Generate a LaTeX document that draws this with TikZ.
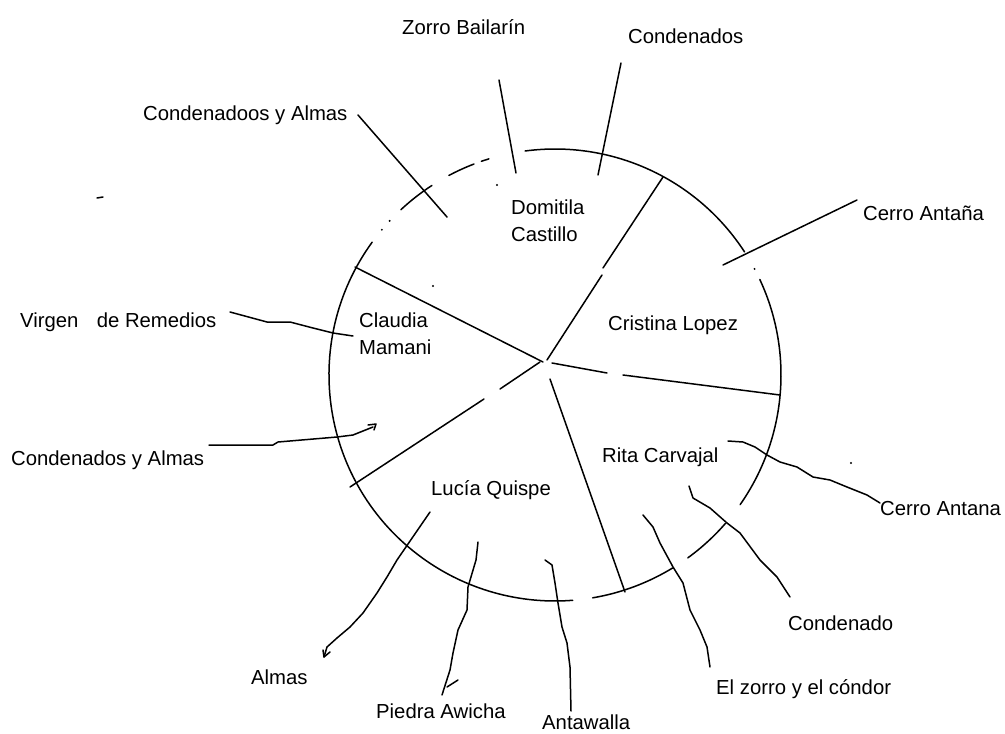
\documentclass[tikz,border=0pt]{standalone}
\usepackage{fontspec}
\setmainfont{Liberation Sans}
\begin{document}
\begin{tikzpicture}[x=1pt,y=-1pt,
  lbl/.style={anchor=base west,inner sep=0pt,font=\fontsize{20.3}{23}\selectfont},
  ln/.style={line width=1.5pt,line join=round,line cap=round},
  dotm/.style={fill=black,draw=none}]
\useasboundingbox[fill=white] (0,0) rectangle (1005,734);
\begin{scope}
\clip (0,0) rectangle (1005,734);
% ---------- circle pieces (centre 555,375 ; r 226) ----------
\coordinate (O) at (555,375);
\draw[ln] (O) ++(25:226pt) arc[start angle=25,end angle=-35,radius=226pt];
\draw[ln] (O) ++(33:226pt) arc[start angle=33,end angle=97.6,radius=226pt];
\draw[ln] (O) ++(107:226pt) arc[start angle=107,end angle=109,radius=226pt];
\draw[ln] (O) ++(111:226pt) arc[start angle=111,end angle=118,radius=226pt];
\draw[ln] (O) ++(123:226pt) arc[start angle=123,end angle=133,radius=226pt];
\draw[ln] (O) ++(144:226pt) arc[start angle=144,end angle=274.5,radius=226pt];
\draw[ln] (O) ++(279.6:226pt) arc[start angle=279.6,end angle=301.4,radius=226pt];
\draw[ln] (O) ++(306:226pt) arc[start angle=306,end angle=319,radius=226pt];
\fill[dotm] (O) ++(28:226pt) circle[radius=1.1pt];
\fill[dotm] (O) ++(137:226pt) circle[radius=1.1pt];
\fill[dotm] (O) ++(140:226pt) circle[radius=1.1pt];
% ---------- spokes ----------
\coordinate (c1) at (543,362);
\draw[ln] (c1) -- (355,267);
\draw[ln] (547,360) -- (602,275);
\draw[ln] (603,268) -- (663,177);
\draw[ln] (552,363) -- (607,373);
\draw[ln] (623,375) -- (780,395);
\draw[ln] (540,362) -- (500,389);
\draw[ln] (484,399) -- (350,487);
\draw[ln] (550,379) -- (625,592);
% ---------- labels ----------
\node[lbl] (zorro) at (402,34) {Zorro Bailarín};
\node[lbl] (cond1) at (628,43) {Condenados};
\node[lbl] (conda) at (143,120) {Condenadoos y Almas};
\node[lbl] (cerro1) at (863,220) {Cerro Antaña};
\node[lbl] (virgen) at (20,327) {Virgen\hspace{18.3pt}de Remedios};
\node[lbl] (condb) at (11,465) {Condenados y Almas};
\node[lbl] (dom) at (511,214) {Domitila};
\node[lbl] (cas) at (511,241) {Castillo};
\node[lbl] (cla) at (359,327) {Claudia};
\node[lbl] (mam) at (359,354) {Mamani};
\node[lbl] (cri) at (608,330) {Cristina Lopez};
\node[lbl] (rita) at (602,462) {Rita Carvajal};
\node[lbl] (lucia) at (431,495) {Lucía Quispe};
\node[lbl] (cerro2) at (880,515) {Cerro Antana};
\node[lbl] (cond2) at (788,630) {Condenado};
\node[lbl] (zc) at (716,694) {El zorro y el cóndor};
\node[lbl] (almas) at (251,684) {Almas};
\node[lbl] (piedra) at (376,718) {Piedra Awicha};
\node[lbl] (anta) at (542,729.5) {Antawalla};
% ---------- connectors ----------
\draw[ln] (499,80) -- (516,173);
\draw[ln] (621,63) -- (598,175);
\draw[ln] (358,115) -- (447,217);
\draw[ln] (857,200) -- (723,265);
\draw[ln] (230,312) -- (267,322) -- (290,322) -- (313,328) -- (333,333) -- (353,336);
\draw[ln] (209,445) -- (273,445) -- (278,442) -- (337,437) -- (353,435) -- (373,427);
\draw[ln] (368,425) -- (376,424) -- (374,430);
\draw[ln] (728,441) -- (743,442) -- (755,447) -- (767,455) -- (780,462) -- (797,467) -- (813,477) -- (830,480) -- (847,487) -- (867,495) -- (880,503);
\draw[ln] (689,486) -- (693,498) -- (710,508) -- (727,523) -- (740,533) -- (760,560) -- (777,577) -- (790,597);
\draw[ln] (643,515) -- (653,527) -- (660,543) -- (673,567) -- (683,583) -- (690,610) -- (700,630) -- (707,647) -- (710,667);
\draw[ln] (545,560) -- (552,565) -- (555,583) -- (558,603) -- (562,627) -- (567,643) -- (570,667) -- (571,711);
\draw[ln] (478,542) -- (476,560) -- (468,587) -- (467,610) -- (458,630) -- (453,653) -- (450,670) -- (442,695);
\draw[ln] (447,687) -- (458,680);
\draw[ln] (430,512) -- (397,560) -- (387,577) -- (377,593) -- (363,613) -- (350,627) -- (337,638) -- (327,647) -- (324,657);
\draw[ln] (323,650) -- (324,657) -- (330,652);
% ---------- stray marks ----------
\draw[ln] (97,198) -- (103,197);
\fill[dotm] (433,286) circle[radius=1.1pt];
\fill[dotm] (497,185) circle[radius=1.1pt];
\fill[dotm] (851,463) circle[radius=1.1pt];
\end{scope}
\end{tikzpicture}
\end{document}
